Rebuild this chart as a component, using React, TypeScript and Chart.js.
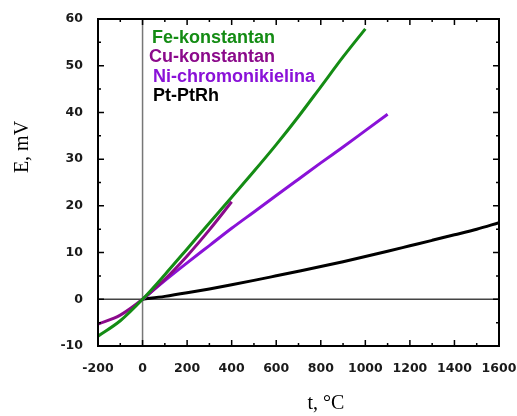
import React, { useEffect, useRef } from "react";
import { Chart, registerables } from "chart.js";

Chart.register(...registerables);

const feT = [-200, -100, 0, 100, 200, 300, 400, 500, 600, 700, 800, 900, 1000];
const feE = [-7.9, -4.6, 0, 5.27, 10.78, 16.33, 21.85, 27.39, 33.1, 39.13, 45.49, 51.88, 57.9];

const cuT = [-200, -100, 0, 100, 200, 300, 400];
const cuE = [-5.3, -3.38, 0, 4.28, 9.29, 14.86, 20.87];

const niT = [0, 100, 200, 300, 400, 500, 600, 700, 800, 900, 1000, 1100];
const niE = [0, 4.0, 7.8, 11.5, 15.2, 18.7, 22.2, 25.7, 29.2, 32.6, 36.1, 39.6];

const ptT = [0, 100, 200, 300, 400, 500, 600, 700, 800, 900, 1000, 1100, 1200, 1300, 1400, 1500, 1600];
const ptE = [0, 0.62, 1.38, 2.22, 3.12, 4.05, 5.02, 6.0, 7.0, 8.05, 9.15, 10.28, 11.45, 12.62, 13.8, 15.0, 16.4];

const seriesNames = ["Fe-konstantan", "Cu-konstantan", "Ni-chromonikielina", "Pt-PtRh"];
const seriesColors = ["#148c14", "#8b0a8b", "#8a12d8", "#000000"];

const xMin = -200, xMax = 1600, xStep = 200, xMinor = 100;
const yMin = -10, yMax = 60, yStep = 10, yMinor = 5;

const pts = (t: number[], e: number[]) => t.map((x, i) => ({ x, y: e[i] }));

const decorPlugin = {
  id: "decor",
  beforeDatasetsDraw(chart: any) {
    const { ctx, chartArea: a, scales } = chart;
    const xs = scales.x, ys = scales.y;
    ctx.save();
    ctx.strokeStyle = "#777";
    ctx.lineWidth = 1.5;
    const x0 = xs.getPixelForValue(0);
    const y0 = ys.getPixelForValue(0);
    ctx.beginPath();
    ctx.moveTo(x0, a.top); ctx.lineTo(x0, a.bottom);
    ctx.stroke();
    ctx.strokeStyle = "#444";
    ctx.beginPath();
    ctx.moveTo(a.left, y0); ctx.lineTo(a.right, y0);
    ctx.stroke();
    ctx.restore();
  },
  afterDraw(chart: any) {
    const { ctx, chartArea: a, scales } = chart;
    const xs = scales.x, ys = scales.y;
    ctx.save();
    ctx.strokeStyle = "#000";
    ctx.lineWidth = 2;
    ctx.strokeRect(a.left, a.top, a.right - a.left, a.bottom - a.top);
    ctx.lineWidth = 1.5;
    ctx.beginPath();
    for (let v = xMin; v <= xMax; v += xMinor) {
      const p = xs.getPixelForValue(v);
      const len = v % xStep === 0 ? 6 : 3;
      ctx.moveTo(p, a.bottom); ctx.lineTo(p, a.bottom - len);
      ctx.moveTo(p, a.top); ctx.lineTo(p, a.top + len);
    }
    for (let v = yMin; v <= yMax; v += yMinor) {
      const p = ys.getPixelForValue(v);
      const len = v % yStep === 0 ? 6 : 3;
      ctx.moveTo(a.left, p); ctx.lineTo(a.left + len, p);
      ctx.moveTo(a.right, p); ctx.lineTo(a.right - len, p);
    }
    ctx.stroke();

    // legend texts
    ctx.font = "bold 18px 'Liberation Sans', Arial, sans-serif";
    ctx.textBaseline = "middle";
    ctx.textAlign = "left";
    const lx = [152, 149, 153, 153];
    const ly = [38, 57, 77, 96];
    seriesNames.forEach((n, i) => {
      ctx.fillStyle = seriesColors[i];
      ctx.fillText(n, lx[i], ly[i]);
    });

    // axis titles
    ctx.fillStyle = "#000";
    ctx.font = "20px 'Liberation Serif', 'Times New Roman', serif";
    ctx.textAlign = "center";
    ctx.fillText("t, °C", 326, 404);
    ctx.translate(23, 147);
    ctx.rotate(-Math.PI / 2);
    ctx.fillText("E, mV", 0, 0);
    ctx.restore();
  },
};

export default function App() {
  const ref = useRef<HTMLCanvasElement | null>(null);
  useEffect(() => {
    if (!ref.current) return;
    const tickFont = { family: "'DejaVu Sans', sans-serif", size: 12.5, weight: "bold" as const };
    const chart = new Chart(ref.current, {
      type: "scatter",
      data: {
        datasets: [
          { label: seriesNames[0], data: pts(feT, feE), borderColor: seriesColors[0] },
          { label: seriesNames[1], data: pts(cuT, cuE), borderColor: seriesColors[1] },
          { label: seriesNames[2], data: pts(niT, niE), borderColor: seriesColors[2] },
          { label: seriesNames[3], data: pts(ptT, ptE), borderColor: seriesColors[3] },
        ].map((d) => ({
          ...d,
          showLine: true,
          borderWidth: 3,
          pointRadius: 0,
          cubicInterpolationMode: "monotone" as const,
          fill: false,
        })),
      },
      options: {
        animation: false,
        responsive: false,
        maintainAspectRatio: false,
        layout: { padding: { top: 19, right: 18, left: 0, bottom: 0 } },
        plugins: { legend: { display: false }, tooltip: { enabled: false } },
        scales: {
          x: {
            type: "linear",
            min: xMin,
            max: xMax,
            grid: { display: false },
            border: { display: false },
            ticks: { stepSize: xStep, color: "#1a1a1a", font: tickFont, padding: 7, maxRotation: 0, callback: (v: any) => String(v) },
            afterFit: (s: any) => { s.height = 70; s.paddingLeft = 0; s.paddingRight = 0; },
          },
          y: {
            type: "linear",
            min: yMin,
            max: yMax,
            grid: { display: false },
            border: { display: false },
            ticks: { stepSize: yStep, color: "#1a1a1a", font: tickFont, padding: 7, callback: (v: any) => String(v) },
            afterFit: (s: any) => { s.width = 98; s.paddingTop = 0; s.paddingBottom = 0; },
          },
        },
      },
      plugins: [decorPlugin],
    });
    return () => chart.destroy();
  }, []);
  return (
    <div style={{ position: "fixed", left: 0, top: 0, width: 517, height: 416, background: "#fff" }}>
      <canvas ref={ref} width={517} height={416} style={{ width: 517, height: 416 }} />
    </div>
  );
}
